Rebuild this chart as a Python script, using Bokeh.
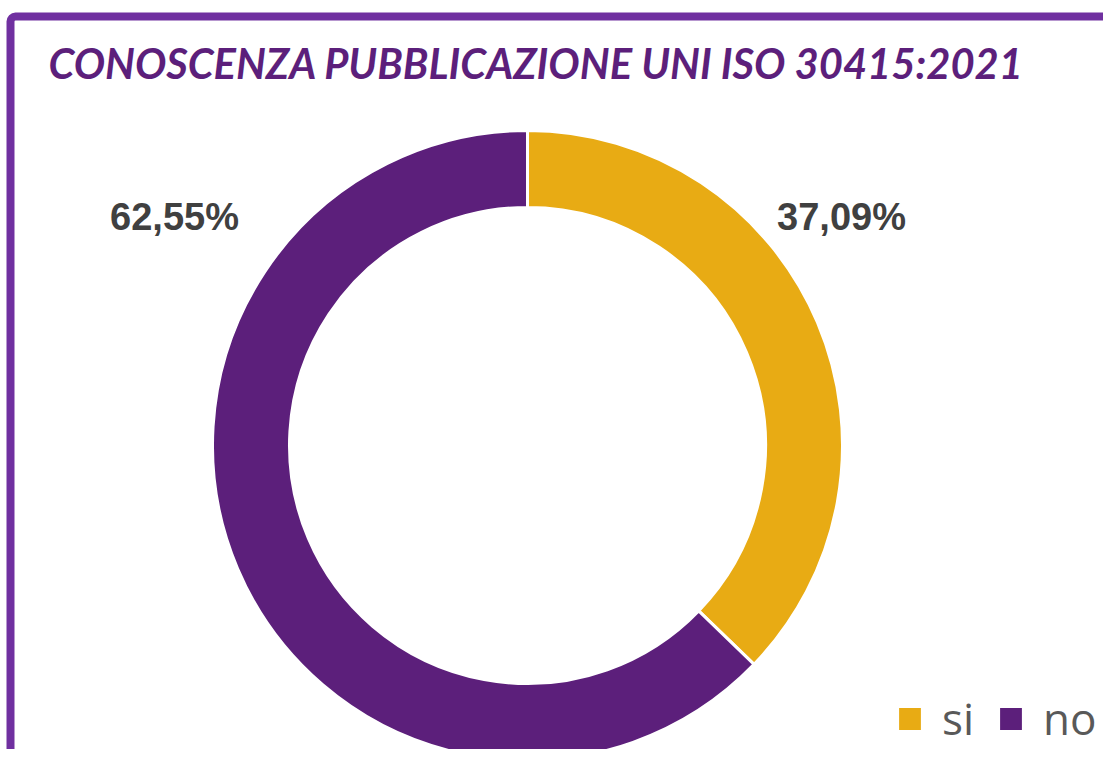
import math
from bokeh.plotting import figure
from bokeh.models import Range1d, BoxAnnotation, Legend, LegendItem, ColumnDataSource
from bokeh.core.properties import value
from bokeh.embed import file_html
from bokeh.resources import INLINE

# ---- data ----
categories = ["si", "no"]
percent = [37.09, 62.55]
pct_labels = ["37,09%", "62,55%"]
colors = ["#E8AB14", "#5C1F7B"]
title_text = "CONOSCENZA PUBBLICAZIONE UNI ISO 30415:2021"

# ---- layout (pixel coordinates, y measured downward) ----
W, H = 1103, 749
def py(y):
    return H - y  # pixel y (down) -> data y (up)

cx, cy = 527, py(445)
r_out, r_in = 315, 238

total = sum(percent)
starts, ends = [], []
a = math.pi / 2
for v in percent:
    span = 2 * math.pi * v / total
    starts.append(a)
    a -= span
    ends.append(a)

src = ColumnDataSource(dict(cat=categories, start=starts, end=ends, color=colors))

p = figure(width=W, height=H, output_backend="svg", toolbar_location=None,
           x_range=Range1d(0, W), y_range=Range1d(0, H),
           min_border=0)
p.axis.visible = False
p.grid.visible = False
p.outline_line_color = None
p.background_fill_color = "white"

# frame decoration
p.add_layout(BoxAnnotation(left=10, right=3000, top=py(16), bottom=-3000,
                           fill_color=None, fill_alpha=0,
                           line_color="#7030A0", line_alpha=1, line_width=8,
                           border_radius=5, level="underlay"))

r = p.annular_wedge(x=cx, y=cy, inner_radius=r_in, outer_radius=r_out,
                    start_angle="start", end_angle="end", direction="clock",
                    fill_color="color", line_color="white", line_width=3,
                    source=src)

# data labels
label_dx = [314, -353]
label_mid_y = [216, 216]
lx = [cx + d for d in label_dx]
ly = [py(b) for b in label_mid_y]
p.text(x=lx, y=ly, text=pct_labels, text_align="center", text_baseline="middle",
       text_font=value("Liberation Sans"), text_font_style="bold",
       text_font_size="38px", text_color="#404040")

# title
p.text(x=[48], y=[py(62)], text=[title_text], text_align="left", text_baseline="middle",
       text_font=value("Lato"), text_font_style="bold italic",
       text_font_size="41.7px", text_color="#5C1F7B")

legend = Legend(items=[LegendItem(label=c, renderers=[r], index=i) for i, c in enumerate(categories)],
                orientation="horizontal", location=(894, 1),
                glyph_width=31, glyph_height=31, label_standoff=17, spacing=21,
                label_text_font="Open Sans", label_text_font_size="44px",
                label_text_color="#595959", border_line_color=None,
                background_fill_alpha=0, padding=0, margin=0)
p.add_layout(legend, "center")

html = file_html(p, INLINE)
open("out.html", "w").write(html)
